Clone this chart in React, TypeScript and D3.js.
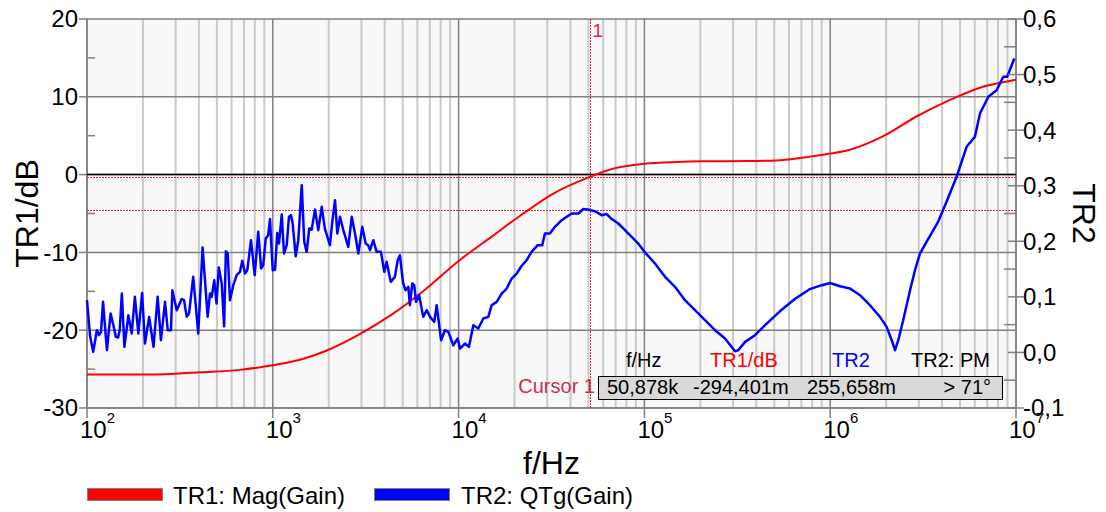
import * as React from 'react'
import * as d3 from 'd3'

// TR1: Mag(Gain) in dB
const tr1Freq = [100, 218, 406, 666, 1000, 1400, 1910, 2887, 4360, 6590, 10000, 15000, 22000, 32000, 50878, 70000, 100000, 150000, 200000, 370000, 537000, 779000, 1000000, 1278000, 1920000, 2930000, 4420000, 6640000, 8200000, 10000000]
const tr1Gain = [-25.7, -25.7, -25.4, -25.1, -24.5, -23.8, -22.7, -20.6, -18.0, -14.8, -11.1, -8.0, -5.1, -2.5, -0.29, 0.85, 1.4, 1.62, 1.7, 1.74, 1.86, 2.31, 2.7, 3.2, 4.9, 7.5, 9.6, 11.3, 11.8, 12.2]

// TR2: QTg(Gain)
const tr2Freq = [100, 104, 108, 113, 116, 119, 122, 128, 134, 138, 143, 147, 150, 154, 159, 167, 174, 181, 189, 198,
    205, 216, 228, 240, 250, 263, 272, 283, 288, 304, 323, 333, 344, 354, 373, 397, 419, 446, 459, 469,
    484, 498, 512, 531, 547, 559, 572, 588, 613, 639, 666, 685, 709, 729, 763, 799, 835, 865, 888, 916,
    944, 966, 999, 1028, 1057, 1080, 1117, 1149, 1188, 1222, 1253, 1279, 1328, 1372, 1431, 1477, 1522, 1571, 1619, 1687,
    1757, 1833, 1910, 2030, 2090, 2162, 2225, 2300, 2396, 2549, 2660, 2770, 2887, 3030, 3162, 3260, 3335, 3475, 3620, 3820,
    3980, 4100, 4310, 4540, 4700, 4830, 5030, 5180, 5360, 5470, 5630, 5770, 5900, 6130, 6450, 6740, 7020, 7400, 7620, 8050,
    8440, 8810, 9360, 9890, 10170, 10820, 11370, 12000, 12760, 13580, 14450, 15070, 16030, 17050, 18140, 19300, 20540, 21850, 23250, 24700,
    26650, 28200, 29140, 31000, 33000, 35900, 38200, 40600, 44100, 46900, 49900, 54200, 58900, 62700, 66700, 72400, 78600, 85400, 92700, 100700,
    114000, 129100, 146100, 165400, 187200, 211900, 240000, 271600, 307400, 320000, 348000, 394000, 446000, 536000, 645000, 778000, 901000, 1000000, 1129000, 1278000,
    1446000, 1637000, 1852000, 2013000, 2143000, 2232000, 2325000, 2470000, 2690000, 2860000, 3040000, 3300000, 3590000, 3820000, 4240000, 4790000, 5420000, 6010000, 6400000, 7100000,
    7870000, 8540000, 8970000, 9790000]
const tr2Qtg = [0.094, 0.028, 0.001, 0.040, 0.031, 0.037, 0.091, 0.004, 0.070, 0.052, 0.028, 0.027, 0.040, 0.106, 0.010, 0.067, 0.034, 0.100, 0.034, 0.107,
    0.016, 0.064, 0.010, 0.100, 0.022, 0.091, 0.040, 0.040, 0.112, 0.076, 0.096, 0.094, 0.064, 0.070, 0.136, 0.034, 0.189, 0.064, 0.106, 0.100,
    0.130, 0.088, 0.153, 0.124, 0.047, 0.182, 0.178, 0.094, 0.121, 0.139, 0.145, 0.165, 0.142, 0.148, 0.202, 0.139, 0.217, 0.151, 0.157, 0.205,
    0.211, 0.240, 0.148, 0.149, 0.215, 0.196, 0.248, 0.178, 0.193, 0.244, 0.247, 0.232, 0.173, 0.202, 0.301, 0.199, 0.181, 0.223, 0.221, 0.257,
    0.220, 0.262, 0.222, 0.193, 0.235, 0.274, 0.214, 0.244, 0.220, 0.190, 0.244, 0.214, 0.178, 0.226, 0.196, 0.193, 0.184, 0.202, 0.181, 0.181,
    0.145, 0.163, 0.127, 0.136, 0.166, 0.175, 0.124, 0.112, 0.118, 0.085, 0.124, 0.121, 0.091, 0.103, 0.064, 0.076, 0.064, 0.055, 0.085, 0.022,
    0.040, 0.037, 0.013, 0.025, 0.007, 0.016, 0.010, 0.049, 0.043, 0.061, 0.064, 0.085, 0.091, 0.106, 0.115, 0.133, 0.142, 0.156, 0.166, 0.181,
    0.193, 0.193, 0.214, 0.214, 0.226, 0.238, 0.244, 0.250, 0.250, 0.258, 0.257, 0.254, 0.247, 0.249, 0.240, 0.232, 0.220, 0.208, 0.196, 0.180,
    0.160, 0.136, 0.118, 0.094, 0.076, 0.058, 0.040, 0.025, 0.002, 0.004, 0.019, 0.031, 0.049, 0.074, 0.096, 0.114, 0.121, 0.125, 0.119, 0.115,
    0.103, 0.085, 0.064, 0.046, 0.022, 0.004, 0.022, 0.058, 0.112, 0.148, 0.178, 0.199, 0.220, 0.236, 0.272, 0.316, 0.370, 0.388, 0.430, 0.460,
    0.472, 0.496, 0.496, 0.529]

const leftTicks = [20, 10, 0, -10, -20, -30]
const leftMinor = [15, 5, -5, -15, -25]
const rightTicks = [0.6, 0.5, 0.4, 0.3, 0.2, 0.1, 0.0, -0.1]
const rightMinor = [0.55, 0.45, 0.35, 0.25, 0.15, 0.05, -0.05]
const decades = [2, 3, 4, 5, 6, 7]

const cursorFreq = 50878
const cursorTr1 = -0.294401
const cursorTr2 = 0.255658
const cursorHeads = ['f/Hz', 'TR1/dB', 'TR2', 'TR2: PM']
const cursorValues = ['50,878k', '-294,401m', '255,658m', '> 71°']

const font = 'Liberation Sans, Arial, sans-serif'
const cursorRed = '#d42a48'

export default function App() {
    const left = 87, right = 1016, top = 19, bottom = 408
    const x = d3.scaleLog().domain([1e2, 1e7]).range([left, right])
    const yL = d3.scaleLinear().domain([-30, 20]).range([bottom, top])
    const yR = d3.scaleLinear().domain([-0.1, 0.6]).range([bottom, top])
    const snap = (v: number) => Math.round(v) + 0.5

    const minors: number[] = []
    decades.slice(0, -1).forEach(d => {
        for (let m = 2; m <= 9; m++) minors.push(m * Math.pow(10, d))
    })

    const redLine = d3.line<number>()
        .x((_, i) => x(tr1Freq[i]))
        .y(d => yL(d))
        .curve(d3.curveMonotoneX)
    const blueLine = d3.line<number>()
        .x((_, i) => x(tr2Freq[i]))
        .y(d => yR(d))

    const fmtR = (v: number) => v.toFixed(1).replace('.', ',').replace('-0,0', '0,0')

    const headX = [626, 710, 832, 911]
    const headColor = ['#000', '#ff0000', '#0000ff', '#000']
    const cx = snap(x(cursorFreq))

    return <svg width={1106} height={512} style={{position: 'absolute', left: 0, top: 0, background: '#fff'}}
        fontFamily={font}>
        {/* alternating bands */}
        {leftTicks.slice(0, -1).map((t, i) => (
            <rect key={'b' + i} x={left} y={yL(t)} width={right - left} height={yL(leftTicks[i + 1]) - yL(t)}
                fill={i % 2 === 0 ? '#f8f8f8' : '#ffffff'} />
        ))}
        {/* minor vertical grid */}
        {minors.map(f => (
            <line key={'m' + f} x1={x(f)} x2={x(f)} y1={top} y2={bottom} stroke='#cacaca' strokeWidth={2} />
        ))}
        {decades.map(d => (
            <line key={'d' + d} x1={x(Math.pow(10, d))} x2={x(Math.pow(10, d))} y1={top} y2={bottom} stroke='#808080' strokeWidth={1.5} />
        ))}
        {leftTicks.map(t => (
            <line key={'h' + t} x1={left} x2={right} y1={yL(t)} y2={yL(t)} stroke='#808080' strokeWidth={1.5} />
        ))}
        <line x1={left} x2={left} y1={top} y2={bottom} stroke='#808080' strokeWidth={1.5} />
        <line x1={right} x2={right} y1={top} y2={bottom} stroke='#808080' strokeWidth={1.5} />

        {/* zero reference and cursor lines */}
        <line x1={left} x2={right} y1={yL(0)} y2={yL(0)} stroke='#000' strokeWidth={1.5} />
        <line x1={left} x2={right} y1={snap(yL(cursorTr1))} y2={snap(yL(cursorTr1))} stroke={cursorRed} strokeWidth={1} strokeDasharray='2,1' />
        <line x1={left} x2={right} y1={snap(yR(cursorTr2))} y2={snap(yR(cursorTr2))} stroke={cursorRed} strokeWidth={1} strokeDasharray='2,1' />
        <line x1={cx} x2={cx} y1={top} y2={bottom} stroke={cursorRed} strokeWidth={1} strokeDasharray='2,1' />
        <text x={cx + 2} y={37} fontSize={19} fill={cursorRed}>1</text>

        {/* curves */}
        <path d={redLine(tr1Gain) || ''} fill='none' stroke='#ff0000' strokeWidth={2} />
        <path d={blueLine(tr2Qtg) || ''} fill='none' stroke='#0000ff' strokeWidth={2.5} strokeLinejoin='round' />

        {/* left axis */}
        {leftTicks.map(t => (
            <g key={'lt' + t}>
                <line x1={left - 8} x2={left} y1={yL(t)} y2={yL(t)} stroke='#808080' strokeWidth={1.5} />
                <text x={left - 9} y={yL(t)} dy='0.35em' textAnchor='end' fontSize={24}>{t}</text>
            </g>
        ))}
        {leftMinor.map(t => (
            <line key={'lm' + t} x1={left} x2={left + 8} y1={yL(t)} y2={yL(t)} stroke='#808080' strokeWidth={1.5} />
        ))}
        {/* right axis */}
        {rightTicks.map(t => (
            <g key={'rt' + t}>
                <line x1={right - 8} x2={right + 8} y1={yR(t)} y2={yR(t)} stroke='#808080' strokeWidth={1.5} />
                <text x={right + 7} y={yR(t)} dy='0.35em' fontSize={24}>{fmtR(t)}</text>
            </g>
        ))}
        {rightMinor.map(t => (
            <line key={'rm' + t} x1={right - 12} x2={right} y1={yR(t)} y2={yR(t)} stroke='#808080' strokeWidth={1.5} />
        ))}
        {/* bottom axis */}
        <line x1={left} x2={right} y1={bottom} y2={bottom} stroke='#808080' strokeWidth={1.5} />
        {decades.map(d => (
            <g key={'bt' + d}>
                <line x1={x(Math.pow(10, d))} x2={x(Math.pow(10, d))} y1={bottom} y2={bottom + 10} stroke='#808080' strokeWidth={1.5} />
                <text x={x(Math.pow(10, d)) - 7} y={438} fontSize={24}>10<tspan dy={-15} fontSize={15}>{d}</tspan></text>
            </g>
        ))}

        {/* axis titles */}
        <text transform={`translate(38, ${(top + bottom) / 2}) rotate(-90)`} textAnchor='middle' fontSize={32}>TR1/dB</text>
        <text transform={`translate(1073, ${(top + bottom) / 2}) rotate(90)`} textAnchor='middle' fontSize={32}>TR2</text>
        <text x={(left + right) / 2} y={474} textAnchor='middle' fontSize={32}>f/Hz</text>

        {/* cursor readout */}
        {cursorHeads.map((h, i) => (
            <text key={'ch' + i} x={headX[i]} y={367} fontSize={20} fill={headColor[i]}>{h}</text>
        ))}
        <text x={595} y={393} textAnchor='end' fontSize={20} fill={cursorRed}>Cursor 1</text>
        <rect x={598.5} y={376.5} width={404} height={23} fill='#d9d9d9' stroke='#000' strokeWidth={1} />
        <text x={607} y={394} fontSize={20}>{cursorValues[0]}</text>
        <text x={693} y={394} fontSize={20}>{cursorValues[1]}</text>
        <text x={807} y={394} fontSize={20}>{cursorValues[2]}</text>
        <text x={991} y={394} textAnchor='end' fontSize={20}>{cursorValues[3]}</text>

        {/* legend */}
        <rect x={87.5} y={488.5} width={75} height={12} fill='#ff0000' stroke='#808080' />
        <text x={173} y={504} fontSize={24}>TR1: Mag(Gain)</text>
        <rect x={374.5} y={488.5} width={75} height={12} fill='#0000ff' stroke='#808080' />
        <text x={461} y={504} fontSize={24}>TR2: QTg(Gain)</text>
    </svg>
}
